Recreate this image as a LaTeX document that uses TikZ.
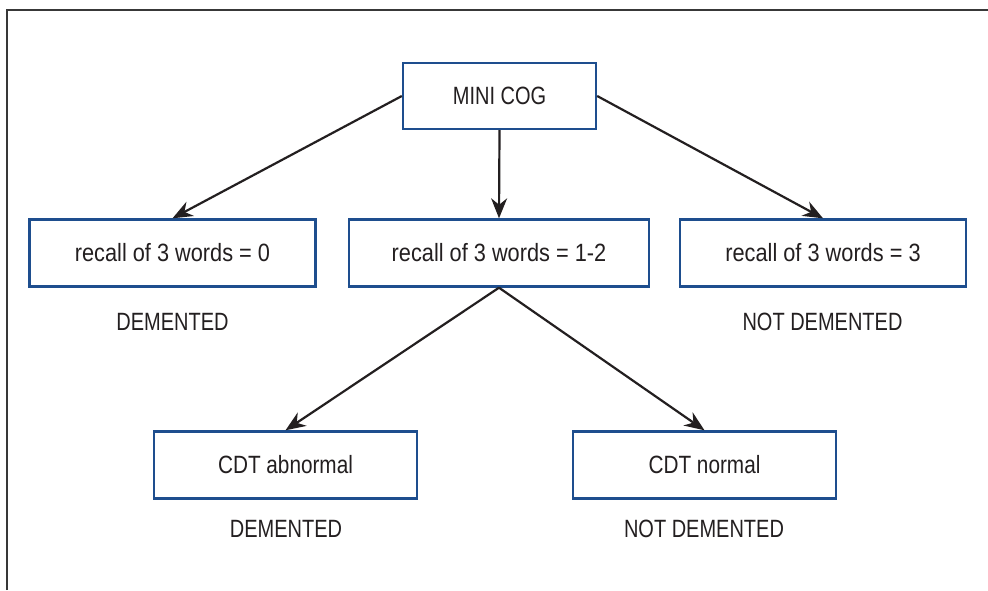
\documentclass[tikz,border=0pt]{standalone}
\usepackage{fontspec}
\setmainfont{Liberation Sans}[FakeStretch=0.87]
\newfontfamily\capsfont{Liberation Sans}[FakeStretch=0.8]
\newfontfamily\midfont{Liberation Sans}[FakeStretch=0.83]
\usetikzlibrary{arrows.meta}
\definecolor{boxblue}{HTML}{1E4E8E}
\definecolor{ink}{HTML}{231F20}
\tikzset{
  flowbox/.style={draw=boxblue, line width=1.2pt, fill=white, inner sep=0pt, minimum height=33.5pt, text=ink, font=\fontsize{12.5}{14}\selectfont},
  outcome/.style={inner sep=0pt, text=ink, font=\capsfont\fontsize{12.5}{14}\selectfont},
  flowarrow/.style={draw=ink, line width=1.1pt, -{Stealth[length=10pt, width=8pt]}},
  flowline/.style={draw=ink, line width=1.1pt}
}
\begin{document}
\begin{tikzpicture}[x=0.5pt, y=-0.5pt]
\useasboundingbox (0,0) rectangle (988,590);
% frame
\draw[line width=0.9pt, draw=black!78] (7,590) -- (7,10) -- (988,10);
% nodes
\node[flowbox, minimum width=96.5pt, minimum height=33pt, font=\capsfont\fontsize{12.5}{14}\selectfont] (mc) at (499.5,96) {MINI COG};
\node[flowbox, minimum width=143pt] (r0) at (172.5,253) {recall of 3 words = 0};
\node[flowbox, minimum width=150pt] (r12) at (499,253) {recall of 3 words = 1-2};
\node[flowbox, minimum width=143pt] (r3) at (823,253) {recall of 3 words = 3};
\node[flowbox, minimum width=131.5pt, font=\midfont\fontsize{12.5}{14}\selectfont] (ca) at (285.5,465) {CDT abnormal};
\node[flowbox, minimum width=131.5pt, font=\midfont\fontsize{12.5}{14}\selectfont] (cn) at (704.5,465) {CDT normal};
\node[outcome] (d0) at (172.5,322) {DEMENTED};
\node[outcome] (n3) at (822.5,322) {NOT DEMENTED};
\node[outcome] (da) at (286,529) {DEMENTED};
\node[outcome] (nn) at (704,529) {NOT DEMENTED};
% connectors
\draw[flowarrow] (mc.west) -- (r0.north);
\draw[flowarrow] (mc.south) -- (r12.north);
\draw[flowarrow] (mc.east) -- (r3.north);
\draw[flowarrow] (r12.south) -- (ca.north);
\draw[flowarrow] (r12.south) -- (cn.north);
\end{tikzpicture}
\end{document}
